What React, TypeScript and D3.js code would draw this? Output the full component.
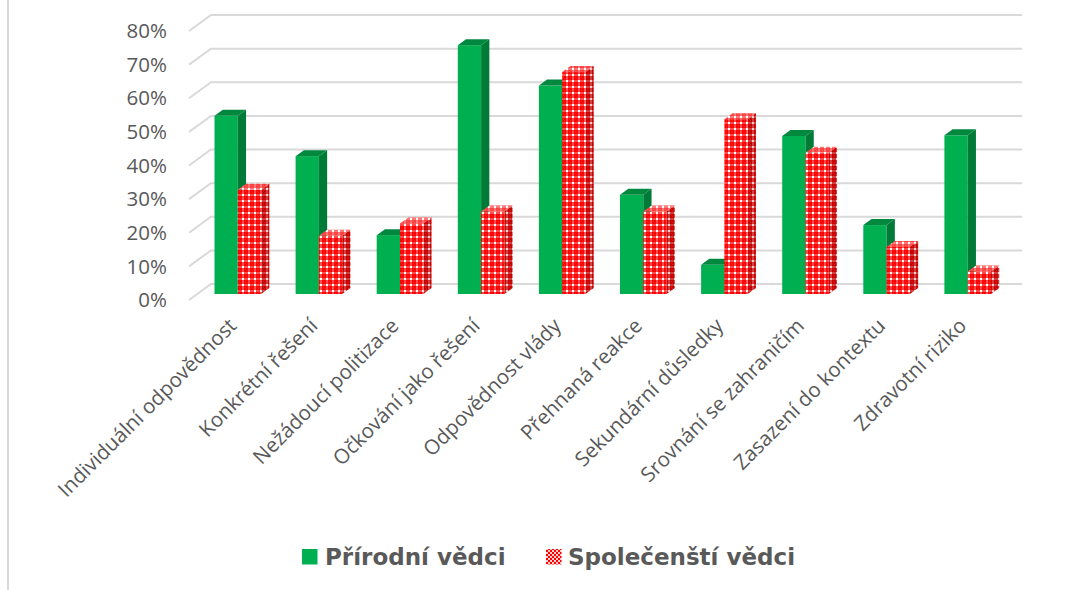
import { useEffect, useRef } from "react";
import * as d3 from "d3";

const categories = [
  "Individuální odpovědnost",
  "Konkrétní řešení",
  "Nežádoucí politizace",
  "Očkování jako řešení",
  "Odpovědnost vlády",
  "Přehnaná reakce",
  "Sekundární důsledky",
  "Srovnání se zahraničím",
  "Zasazení do kontextu",
  "Zdravotní riziko",
];
const naturalValues = [0.53, 0.41, 0.175, 0.74, 0.62, 0.295, 0.087, 0.47, 0.205, 0.472];
const socialValues = [0.31, 0.173, 0.21, 0.245, 0.66, 0.245, 0.52, 0.42, 0.14, 0.067];
const seriesNames = ["Přírodní vědci", "Společenští vědci"];
const yTicks = [0, 0.1, 0.2, 0.3, 0.4, 0.5, 0.6, 0.7, 0.8];

const W = 1073;
const H = 590;

const App = () => {
  const ref = useRef<SVGSVGElement | null>(null);

  useEffect(() => {
    const svg = d3.select(ref.current);
    svg.selectAll("*").remove();

    // back wall
    const wallLeft = 211;
    const wallRight = 1022;
    const depthX = -22; // front of floor relative to back wall
    const depthY = 16;

    const yBack = d3.scaleLinear().domain([0, 0.8]).range([284, 15]);
    const x = d3.scaleBand().domain(categories).range([wallLeft, wallRight]);

    const defs = svg.append("defs");
    const mkPattern = (id, bg, line, dot) => {
      const p = defs
        .append("pattern")
        .attr("id", id)
        .attr("width", 6)
        .attr("height", 6)
        .attr("patternUnits", "userSpaceOnUse");
      p.append("rect").attr("width", 6).attr("height", 6).attr("fill", bg);
      p.append("rect").attr("x", 0).attr("y", 2.5).attr("width", 6).attr("height", 1).attr("fill", line);
      p.append("rect").attr("x", 2.5).attr("y", 0).attr("width", 1).attr("height", 6).attr("fill", line);
      p.append("rect").attr("x", 2).attr("y", 2).attr("width", 2).attr("height", 2).attr("fill", dot);
      p.append("rect").attr("x", 5.5).attr("y", 5.5).attr("width", 1).attr("height", 1).attr("fill", dot).attr("opacity", 0.5);
      p.append("rect").attr("x", 0).attr("y", 0).attr("width", 0.5).attr("height", 0.5).attr("fill", dot).attr("opacity", 0.5);
    };
    mkPattern("redFront", "#FF0000", "#FF9A9A", "#FFFFFF");
    mkPattern("redSide", "#C80000", "#E08080", "#F0D0D0");
    mkPattern("redTop", "#FF4040", "#FFB0B0", "#FFFFFF");

    const lp = defs
      .append("pattern")
      .attr("id", "legendRed")
      .attr("width", 4)
      .attr("height", 4)
      .attr("patternUnits", "userSpaceOnUse");
    lp.append("rect").attr("width", 4).attr("height", 4).attr("fill", "#FF0000");
    lp.append("rect").attr("x", 2).attr("y", 0).attr("width", 2).attr("height", 2).attr("fill", "#FFD0D0");
    lp.append("rect").attr("x", 0).attr("y", 2).attr("width", 2).attr("height", 2).attr("fill", "#FFD0D0");

    // container border on left
    svg
      .append("line")
      .attr("x1", 8)
      .attr("x2", 8)
      .attr("y1", 0)
      .attr("y2", H)
      .attr("stroke", "#D9D9D9")
      .attr("stroke-width", 2);

    // gridlines: back wall + side wall
    const grid = svg.append("g").attr("stroke", "#D9D9D9").attr("stroke-width", 2).attr("fill", "none");
    yTicks.forEach((t) => {
      const yb = yBack(t);
      grid
        .append("path")
        .attr("d", `M${wallLeft + depthX},${yb + depthY}L${wallLeft},${yb}L${wallRight},${yb}`);
    });

    // y labels
    svg
      .append("g")
      .selectAll("text")
      .data(yTicks)
      .enter()
      .append("text")
      .attr("x", 167)
      .attr("y", (d) => yBack(d) + depthY)
      .attr("dy", "0.35em")
      .attr("text-anchor", "end")
      .style("font-family", "'Open Sans', sans-serif")
      .style("font-size", "20.5px")
      .attr("fill", "#595959")
      .text((d) => d3.format(".0%")(d));

    // bars on a plane part way into the floor
    const k = 0.625;
    const offX = depthX * k;
    const offY = depthY * k;
    const barW = 23.3;
    const dX = 8.25;
    const dY = -6;
    const base = yBack(0) + offY;
    const unit = yBack(0) - yBack(1);

    const drawBar = (g, x0, v, front, side, top) => {
      const y0 = base - v * unit;
      g.append("rect").attr("x", x0).attr("y", y0).attr("width", barW).attr("height", base - y0).attr("fill", front);
      g.append("path")
        .attr("d", `M${x0},${y0}L${x0 + dX},${y0 + dY}L${x0 + barW + dX},${y0 + dY}L${x0 + barW},${y0}Z`)
        .attr("fill", top);
      g.append("path")
        .attr("d", `M${x0 + barW},${y0}L${x0 + barW + dX},${y0 + dY}L${x0 + barW + dX},${base + dY}L${x0 + barW},${base}Z`)
        .attr("fill", side);
    };

    const bars = svg.append("g");
    categories.forEach((c, i) => {
      const cx = x(c) + x.bandwidth() / 2 + offX;
      const g = bars.append("g");
      drawBar(g, cx - barW, naturalValues[i], "#00B050", "#007A37", "#00883F");
      drawBar(g, cx, socialValues[i], "url(#redFront)", "url(#redSide)", "url(#redTop)");
    });

    // category labels
    svg
      .append("g")
      .selectAll("text")
      .data(categories)
      .enter()
      .append("text")
      .attr("transform", (d) => `translate(${x(d) + x.bandwidth() / 2 + offX},${327}) rotate(-45)`)
      .attr("text-anchor", "end")
      .style("font-family", "'Open Sans', sans-serif")
      .style("font-size", "20.5px")
      .attr("fill", "#595959")
      .text((d) => d);

    // legend
    const legend = svg.append("g");
    const legendItems = [
      { name: seriesNames[0], fill: "#00B050", x: 302, tx: 325 },
      { name: seriesNames[1], fill: "url(#legendRed)", x: 546, tx: 568 },
    ];
    legendItems.forEach((it) => {
      legend.append("rect").attr("x", it.x).attr("y", 549).attr("width", 15.5).attr("height", 15.5).attr("fill", it.fill);
      legend
        .append("text")
        .attr("x", it.tx)
        .attr("y", 565)
        .style("font-family", "'DejaVu Sans', sans-serif")
        .style("font-weight", "bold")
        .style("font-size", "23px")
        .attr("fill", "#595959")
        .text(it.name);
    });
  }, []);

  return (
    <svg
      ref={ref}
      width={W}
      height={H}
      style={{ position: "absolute", left: 0, top: 0, background: "#fff" }}
    />
  );
};

export default App;
